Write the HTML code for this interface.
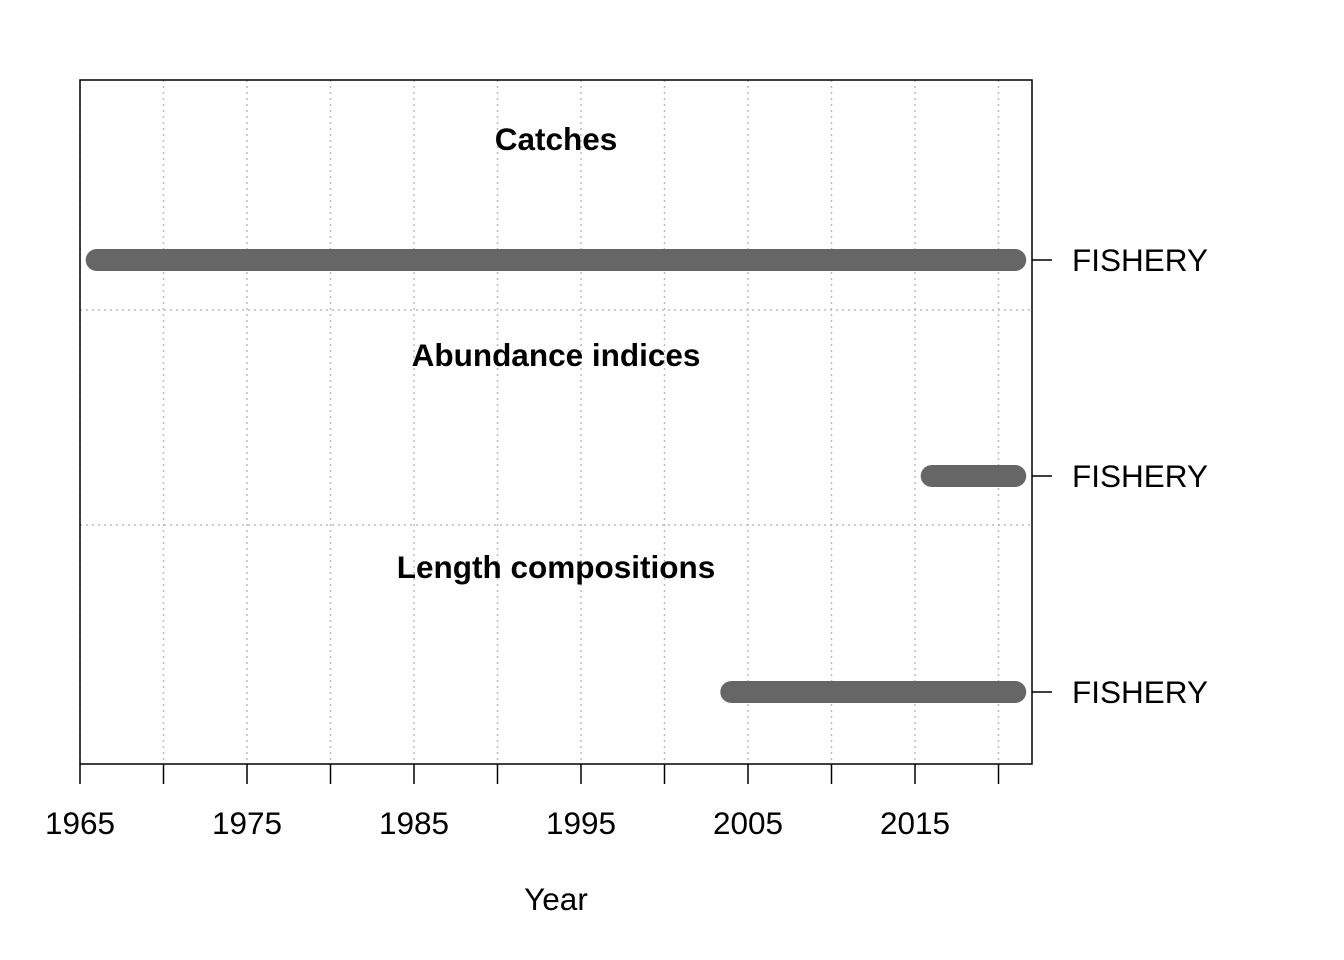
<!DOCTYPE html>
<html><head><meta charset="utf-8"><style>body{margin:0;background:#fff}svg{display:block}</style></head>
<body>
<svg id="chart" width="1344" height="960" xmlns="http://www.w3.org/2000/svg" font-family="Liberation Sans, Arial, sans-serif"></svg>
<script>
const sections = ["Catches", "Abundance indices", "Length compositions"];
const fleets = ["FISHERY", "FISHERY", "FISHERY"];
const startYears = [1966, 2016, 2004];
const endYears = [2021, 2021, 2021];
const tickYears = [1965,1970,1975,1980,1985,1990,1995,2000,2005,2010,2015,2020];
const tickLabels = ["1965","1975","1985","1995","2005","2015"];

const svg = document.getElementById('chart');
const NS = "http://www.w3.org/2000/svg";
const x = y => 80 + (y - 1965) * 16.7;
const rowY = [260, 476, 692], titleY = [140, 356, 568], sepY = [310, 525];
const FS = 31.5;
function el(tag, attrs, text){const e=document.createElementNS(NS,tag);for(const k in attrs)e.setAttribute(k,attrs[k]);if(text!==undefined)e.textContent=text;svg.appendChild(e);return e;}

tickYears.forEach(t=>{
  const g=el('line',{x1:x(t),x2:x(t),y1:80,y2:764,stroke:'#bbb','stroke-width':1.5,'stroke-dasharray':'2,4'});
  
  
  const tk=el('line',{x1:x(t),x2:x(t),y1:764,y2:784,stroke:'#000','stroke-width':1.5});
  
  
});
sepY.forEach(s=>{
  const l=el('line',{x1:80,x2:1032,y1:s,y2:s,stroke:'#bbb','stroke-width':1.5,'stroke-dasharray':'2,4'});
  
  
});
tickLabels.forEach(t=>{
  const l=el('text',{x:x(+t),y:834,'font-size':FS,'text-anchor':'middle'},t);
  
  
});
sections.forEach((s,i)=>{
  const t=el('text',{x:556,y:titleY[i]+10,'font-size':FS,'font-weight':'bold','text-anchor':'middle'},s);
  
  
  const b=el('line',{x1:x(startYears[i]),x2:x(endYears[i]),y1:rowY[i],y2:rowY[i],stroke:'#666','stroke-width':22,'stroke-linecap':'round'});
  
  
  const tk=el('line',{x1:1032,x2:1052,y1:rowY[i],y2:rowY[i],stroke:'#000','stroke-width':1.5});
  
  
  const lb=el('text',{x:1072,y:rowY[i]+11,'font-size':FS},fleets[i]);
  
  
});
const box=el('rect',{x:80,y:80,width:952,height:684,fill:'none',stroke:'#000','stroke-width':1.5});


const xt=el('text',{x:556,y:910,'font-size':FS,'text-anchor':'middle'},'Year');


</script>
</body></html>
